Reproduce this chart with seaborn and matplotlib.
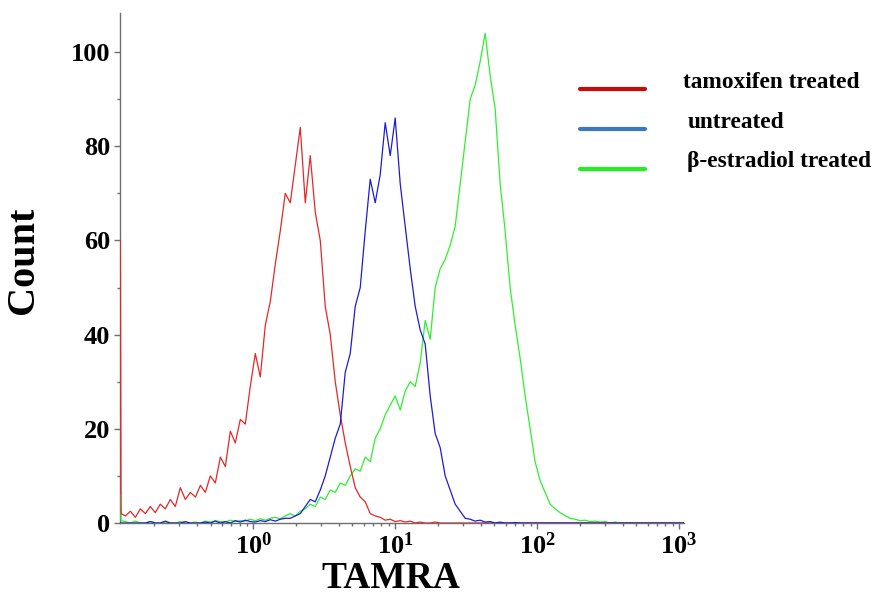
import numpy as np
import pandas as pd
import seaborn as sns
import matplotlib.pyplot as plt
from matplotlib.lines import Line2D
from matplotlib.ticker import FixedLocator, FuncFormatter, LogLocator, NullFormatter, MultipleLocator

sns.set_style("ticks")
plt.rcParams["font.family"] = ["Liberation Serif", "DejaVu Serif"]
plt.rcParams["font.weight"] = "bold"
plt.rcParams["mathtext.fontset"] = "custom"
plt.rcParams["mathtext.bf"] = "Liberation Serif:bold"
plt.rcParams["mathtext.rm"] = "Liberation Serif:bold"
plt.rcParams["text.color"] = "black"
plt.rcParams["axes.labelcolor"] = "black"

# channel positions (TAMRA intensity, log scale)
tamra = [0.1157, 0.117,
         0.1255, 0.136, 0.1476, 0.160, 0.1735, 0.188, 0.204, 0.221, 0.240, 0.260,
         0.282, 0.306, 0.332, 0.360, 0.391, 0.424, 0.459, 0.498, 0.540, 0.586,
         0.635, 0.689, 0.747, 0.810, 0.878, 0.952, 1.033, 1.120, 1.215, 1.317,
         1.429, 1.549, 1.680, 1.822, 1.976, 2.143, 2.324, 2.520, 2.733, 2.964,
         3.214, 3.486, 3.780, 4.099, 4.446, 4.821, 5.228, 5.670, 6.149, 6.668,
         7.231, 7.842, 8.504, 9.222, 10.0, 10.85, 11.76, 12.76, 13.83, 15.0,
         16.27, 17.64, 19.13, 20.75, 22.50, 24.40, 26.46, 28.70, 31.12, 33.75,
         36.60, 39.69, 43.04, 46.67, 50.61, 54.89, 59.52, 64.55, 70.0, 75.9,
         82.3, 89.3, 96.8, 105.0, 113.8, 123.5, 133.9, 145.2, 157.5, 170.8,
         185.2, 200.8, 217.8, 236.2, 256.1, 277.7, 301.2, 326.6, 354.2, 384.1,
         416.5, 451.7, 489.8, 531.2, 576.0, 624.7, 677.4, 734.6, 796.6, 863.9,
         936.8, 1016, 1084]

tamoxifen = [60, 2,
             1.5, 2.5, 1.2, 3, 2, 3.5, 2.2, 4, 3, 5,
             3.5, 7.5, 5, 6.5, 5.5, 8, 6.5, 10, 8.5, 14,
             12, 19.5, 17, 22, 21, 29, 36, 31, 42, 47,
             55, 62, 70, 68, 76, 84, 68, 78, 66, 60,
             46, 40, 30, 23, 17, 12, 7.5, 5.5, 4.5, 2,
             1.5, 1.2, 0.6, 0.8, 0.3, 0.5, 0.2, 0.4, 0, 0.2,
             0, 0, 0.2, 0, 0, 0, 0, 0, 0, 0,
             0, 0, 0, 0, 0, 0, 0, 0, 0, 0,
             0, 0, 0, 0, 0, 0, 0, 0, 0, 0,
             0, 0, 0, 0, 0, 0, 0, 0, 0, 0,
             0, 0, 0, 0, 0, 0, 0, 0, 0, 0,
             0, 0, 0]

untreated = [0, 0,
             0, 0, 0, 0, 0, 0.3, 0, 0, 0.4, 0,
             0, 0, 0.3, 0, 0, 0, 0.2, 0, 0.4, 0,
             0.3, 0, 0.5, 0.2, 0.6, 0.3, 0.2, 0.5, 0.3, 0.7,
             0.4, 0.8, 1.0, 1.0, 1.5, 2.0, 3.5, 5.0, 4.5, 7.0,
             10, 14, 18, 21, 32, 36, 46, 50, 62, 73,
             68, 74, 85, 78, 86, 72, 63, 54, 46, 41,
             38, 27, 19, 16, 10, 7, 4, 2.5, 1, 0.8,
             0.4, 0.6, 0.2, 0.3, 0, 0.2, 0, 0, 0.1, 0,
             0, 0, 0, 0, 0, 0, 0, 0, 0, 0,
             0, 0, 0, 0, 0, 0, 0, 0, 0, 0,
             0, 0, 0, 0, 0, 0, 0, 0, 0, 0,
             0, 0, 0]

estradiol = [6, 0.5,
             0.3, 0, 0.4, 0, 0, 0.3, 0, 0, 0.2, 0,
             0, 0.3, 0, 0, 0.2, 0, 0.4, 0.2, 0.5, 0.3,
             0.2, 0.6, 0.3, 0.5, 0.4, 0.8, 0.5, 0.9, 0.6, 1.0,
             1.2, 0.9, 1.5, 2.0, 1.5, 2.5, 3.0, 4.0, 3.5, 5.5,
             5.0, 7.0, 6.5, 8.5, 8.0, 10, 11.5, 11, 14, 13,
             18, 20, 23, 25, 27, 24, 28, 30, 29, 34,
             43, 39, 50, 54, 56, 59, 63, 72, 81, 90,
             93, 98, 104, 95, 88, 72, 62, 50, 42, 35,
             27, 20, 13, 9, 6.5, 4, 3, 2.2, 1.6, 1.0,
             0.8, 0.5, 0.6, 0.3, 0.4, 0.2, 0.3, 0, 0.2, 0,
             0, 0.1, 0, 0, 0, 0, 0, 0, 0, 0,
             0, 0, 0]

labels = ["tamoxifen treated", "untreated", "β-estradiol treated"]
line_colors = ["#e42828", "#1c1cd6", "#2ef02e"]
legend_colors = ["#c80a0a", "#3c78be", "#20f020"]

df = pd.DataFrame({
    "TAMRA": tamra * 3,
    "Count": tamoxifen + untreated + estradiol,
    "sample": np.repeat(labels, len(tamra)),
})

fig = plt.figure(figsize=(8.77, 5.99), dpi=100)
ax = fig.add_axes([120 / 877, 76 / 599, 564 / 877, 510 / 599])

sns.lineplot(data=df, x="TAMRA", y="Count", hue="sample",
             hue_order=[labels[2], labels[0], labels[1]],
             palette=dict(zip(labels, line_colors)),
             linewidth=0.9, estimator=None, sort=False, legend=False, ax=ax)
# curves sit on top of the axis lines, as in the cytometer export
for ln in ax.lines:
    ln.set_zorder(3)

ax.set_xscale("log")
ax.set_xlim(0.1150, 1084)
ax.set_ylim(0, 108.3)

ax.xaxis.set_major_locator(FixedLocator([1, 10, 100, 1000]))
ax.xaxis.set_major_formatter(FuncFormatter(
    lambda v, p: r"$\mathbf{10^{%d}}$" % int(round(np.log10(v)))))
ax.xaxis.set_minor_locator(LogLocator(base=10, subs=range(2, 10)))
ax.xaxis.set_minor_formatter(NullFormatter())
ax.yaxis.set_major_locator(FixedLocator([0, 20, 40, 60, 80, 100]))
ax.yaxis.set_minor_locator(MultipleLocator(10))

for s in ["left", "bottom"]:
    ax.spines[s].set_color("#6e6e6e")
    ax.spines[s].set_linewidth(1.0)
sns.despine(ax=ax)

ax.tick_params(axis="both", which="major", direction="out", length=4, width=1,
               color="#6e6e6e", labelcolor="black", labelsize=19, pad=3)
ax.tick_params(axis="both", which="minor", direction="out", length=2.5, width=1,
               color="#6e6e6e")

ax.set_xlabel("TAMRA", fontsize=27, fontweight="bold")
ax.set_ylabel("Count", fontsize=29, fontweight="bold")
ax.xaxis.set_label_coords(0.48, -0.075)
ax.yaxis.set_label_coords(-0.138, 0.516)

# legend drawn by hand to match the placement
rows = [(89, 82, 683), (129, 122, 688), (169, 161, 687)]
for (ly, ty, tx), lab, col in zip(rows, labels, legend_colors):
    fig.add_artist(Line2D([580 / 877, 645 / 877], [1 - ly / 599, 1 - ly / 599],
                          color=col, linewidth=3))
    fig.text(tx / 877, 1 - ty / 599, lab, fontsize=16.8, fontweight="bold",
             ha="left", va="center")

fig.savefig("out.png", dpi=100)
